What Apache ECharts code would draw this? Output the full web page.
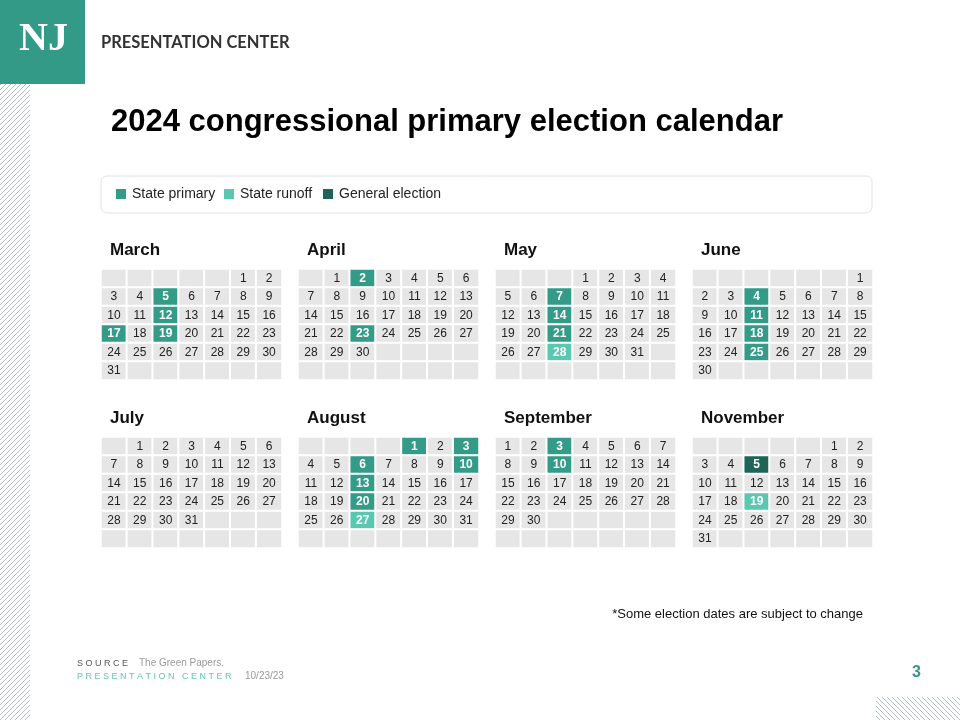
<!DOCTYPE html>
<html><head><meta charset="utf-8">
<script src="https://cdn.jsdelivr.net/npm/echarts@6/dist/echarts.min.js"></script>
<style>html,body{margin:0;padding:0;background:#fff}#c{width:960px;height:720px}</style>
</head><body><div id="c"></div>
<script>
// month data
var months = ['March', 'April', 'May', 'June', 'July', 'August', 'September', 'November'];
var firstWeekday = [5, 1, 3, 6, 1, 4, 0, 5];
var daysInMonth = [31, 30, 31, 30, 31, 31, 30, 31];
var primaryDays = [[5, 12, 17, 19], [2, 23], [7, 14, 21], [4, 11, 18, 25], [], [1, 3, 6, 10, 13, 20], [3, 10], []];
var runoffDays = [[], [], [28], [], [], [27], [], [19]];
var generalDays = [[], [], [], [], [], [], [], [5]];
var legendNames = ['State primary', 'State runoff', 'General election'];

var C_PRIMARY = '#339b88', C_RUNOFF = '#5ac7b1', C_GENERAL = '#1f6557', C_EMPTY = '#e6e6e6';

var chart = echarts.init(document.getElementById('c'));
var grids = [], xAxes = [], yAxes = [], series = [], graphics = [];
var colX = [101, 298, 495, 692], rowY = [269, 437];

for (var m = 0; m < months.length; m++) {
	var gx = colX[m % 4], gy = rowY[Math.floor(m / 4)];
	grids.push({ left: gx, top: gy, width: 181, height: 111 });
	xAxes.push({ gridIndex: m, type: 'category', data: [0, 1, 2, 3, 4, 5, 6], show: false });
	yAxes.push({ gridIndex: m, type: 'category', data: [0, 1, 2, 3, 4, 5], inverse: true, show: false });
	var cells = [];
	for (var i = 0; i < 42; i++) {
		var d = i - firstWeekday[m] + 1;
		var kind = 0, label = '';
		if (d >= 1 && d <= daysInMonth[m]) {
			label = String(d);
			if (primaryDays[m].indexOf(d) >= 0) kind = 1;
			if (runoffDays[m].indexOf(d) >= 0) kind = 2;
			if (generalDays[m].indexOf(d) >= 0) kind = 3;
		}
		var cell = { value: [i % 7, Math.floor(i / 7), kind, label] };
		if (kind > 0) cell.label = { color: '#fff', fontWeight: 'bold' };
		cells.push(cell);
	}
	series.push({
		type: 'heatmap', xAxisIndex: m, yAxisIndex: m, data: cells,
		itemStyle: { borderColor: '#fff', borderWidth: 2 },
		label: {
			show: true, fontFamily: 'Liberation Sans, Arial', fontSize: 12,
			formatter: function(p) { return p.value[3]; },
			color: '#222'
		},
		emphasis: { disabled: true }
	});
	graphics.push({ type: 'text', left: gx + 9, top: gy - 27,
		style: { text: months[m], font: 'bold 17px Liberation Sans, Arial', fill: '#111' } });
}

// hatch decoration
for (var k = -30; k < 720; k += 5) {
	graphics.push({ type: 'line', silent: true, shape: { x1: 0, y1: k + 30, x2: 30, y2: k },
		style: { stroke: '#9fb0b4', lineWidth: 0.8 } });
}
graphics.push({ type: 'rect', shape: { x: 0, y: 0, width: 30, height: 84 }, style: { fill: '#fff' } });
for (var k2 = -24; k2 < 90; k2 += 5) {
	graphics.push({ type: 'line', silent: true, shape: { x1: 876 + k2, y1: 697, x2: 876 + k2 + 23, y2: 720 },
		style: { stroke: '#9fb0b4', lineWidth: 0.8 } });
}
graphics.push({ type: 'rect', shape: { x: 850, y: 690, width: 26, height: 30 }, style: { fill: '#fff' } });
graphics.push({ type: 'rect', shape: { x: 0, y: 0, width: 85, height: 84 }, style: { fill: '#329a86' } });
graphics.push({ type: 'text', left: 19, top: 20, style: { text: 'NJ', font: 'bold 40px Liberation Serif, serif', fill: '#fff' } });
graphics.push({ type: 'text', left: 101, top: 34, style: { text: 'PRESENTATION CENTER', font: 'bold 16.5px Lato, sans-serif', fill: '#333' } });
graphics.push({ type: 'text', left: 111, top: 107, style: { text: '2024 congressional primary election calendar', font: 'bold 31px Liberation Sans, Arial', fill: '#000' } });
// legend box
graphics.push({ type: 'rect', shape: { x: 101, y: 176, width: 771, height: 37, r: 6 }, style: { fill: '#fff', stroke: '#e2e2e2', lineWidth: 1 } });
var legX = [116, 224, 323], legC = [C_PRIMARY, C_RUNOFF, C_GENERAL];
for (var j = 0; j < 3; j++) {
	graphics.push({ type: 'rect', shape: { x: legX[j], y: 189, width: 10, height: 10 }, style: { fill: legC[j] } });
	graphics.push({ type: 'text', left: legX[j] + 16, top: 187, style: { text: legendNames[j], font: '14px Liberation Sans, Arial', fill: '#222' } });
}
graphics.push({ type: 'text', right: 97, top: 608, style: { text: '*Some election dates are subject to change', font: '13px Liberation Sans, Arial', fill: '#111' } });
graphics.push({ type: 'text', left: 77, top: 659, style: { text: 'S O U R C E', font: '9px Liberation Sans, Arial', fill: '#555' } });
graphics.push({ type: 'text', left: 139, top: 658, style: { text: 'The Green Papers.', font: '10px Liberation Sans Narrow, Arial', fill: '#999' } });
graphics.push({ type: 'text', left: 77, top: 672, style: { text: 'P R E S E N T A T I O N   C E N T E R', font: '9px Liberation Sans, Arial', fill: '#5cc8b0' } });
graphics.push({ type: 'text', left: 245, top: 671, style: { text: '10/23/23', font: '10px Liberation Sans Narrow, Arial', fill: '#999' } });
graphics.push({ type: 'text', left: 912, top: 665, style: { text: '3', font: 'bold 16px Liberation Sans, Arial', fill: '#329a86' } });

chart.setOption({
	animation: false,
	grid: grids, xAxis: xAxes, yAxis: yAxes,
	visualMap: {
		type: 'piecewise', show: false, dimension: 2,
		pieces: [{ value: 0, color: C_EMPTY }, { value: 1, color: C_PRIMARY }, { value: 2, color: C_RUNOFF }, { value: 3, color: C_GENERAL }]
	},
	series: series,
	graphic: graphics
});
</script></body></html>
